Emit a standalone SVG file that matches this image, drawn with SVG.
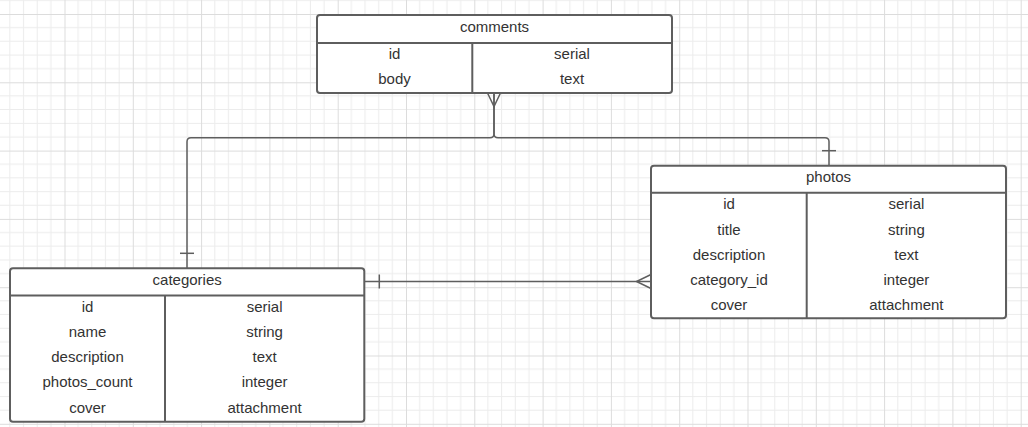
<svg xmlns="http://www.w3.org/2000/svg" width="1028" height="427" viewBox="0 0 1028 427">
<style>
.box{fill:#ffffff;stroke:#5e5e5e;stroke-width:2}
.div{stroke:#5e5e5e;stroke-width:2;fill:none}
.conn{stroke:#5e5e5e;stroke-width:1.5;fill:none}
text{font-family:"Liberation Sans",Arial,sans-serif;font-size:15px;fill:#333333;text-anchor:middle}
</style>
<defs>
<pattern id="grid" patternUnits="userSpaceOnUse" x="-3.8" y="14" width="68.3" height="68.3">
<path d="M13.66,0V68.3M27.32,0V68.3M40.98,0V68.3M54.64,0V68.3M0,13.66H68.3M0,27.32H68.3M0,40.98H68.3M0,54.64H68.3" stroke="#ececec" stroke-width="1" fill="none"/>
<path d="M0.5,0V68.3M0,0.5H68.3" stroke="#dcdcdc" stroke-width="1" fill="none"/>
</pattern>
</defs>
<rect width="1028" height="427" fill="#ffffff"/>
<rect width="1028" height="427" fill="url(#grid)"/>
<g id="connectors">
<path class="conn" d="M494,93V133.7Q494,137.7 490,137.7H191Q187,137.7 187,141.7V268.3"/>
<path class="conn" d="M494,93V133.7Q494,137.7 498,137.7H825Q829,137.7 829,141.7V165.7"/>
<path class="conn" d="M487.5,93L494,106.5L500.5,93"/>
<path class="conn" d="M180,253.3H194"/>
<path class="conn" d="M822,150.7H836"/>
<path class="conn" d="M364.3,281.5H651"/>
<path class="conn" d="M379.3,274.5V288.5"/>
<path class="conn" d="M651,274.5L636.5,281.5L651,288.5"/>
</g>
<g id="comments">
<rect class="box" x="317" y="15" width="355" height="78" rx="3"/>
<path class="div" d="M317,43H672M472.3,43V93"/>
<text x="494.5" y="32.3">comments</text>
<text x="394.5" y="58.5">id</text>
<text x="572" y="58.5">serial</text>
<text x="394.5" y="83.7">body</text>
<text x="572" y="83.7">text</text>
</g>
<g id="categories">
<rect class="box" x="10" y="268.3" width="354.3" height="153.4" rx="3"/>
<path class="div" d="M10,295.5H364.3M165,295.5V421.7"/>
<text x="187.2" y="285">categories</text>
<text x="87.5" y="311.5">id</text>
<text x="264.6" y="311.5">serial</text>
<text x="87.5" y="336.8">name</text>
<text x="264.6" y="336.8">string</text>
<text x="87.5" y="362.1">description</text>
<text x="264.6" y="362.1">text</text>
<text x="87.5" y="387.4">photos_count</text>
<text x="264.6" y="387.4">integer</text>
<text x="87.5" y="412.7">cover</text>
<text x="264.6" y="412.7">attachment</text>
</g>
<g id="photos">
<rect class="box" x="651" y="165.7" width="355" height="152.6" rx="3"/>
<path class="div" d="M651,192.8H1006M806.7,192.8V318.3"/>
<text x="828.5" y="182.3">photos</text>
<text x="729" y="209.3">id</text>
<text x="906.4" y="209.3">serial</text>
<text x="729" y="234.5">title</text>
<text x="906.4" y="234.5">string</text>
<text x="729" y="259.7">description</text>
<text x="906.4" y="259.7">text</text>
<text x="729" y="284.9">category_id</text>
<text x="906.4" y="284.9">integer</text>
<text x="729" y="310.1">cover</text>
<text x="906.4" y="310.1">attachment</text>
</g>
</svg>
